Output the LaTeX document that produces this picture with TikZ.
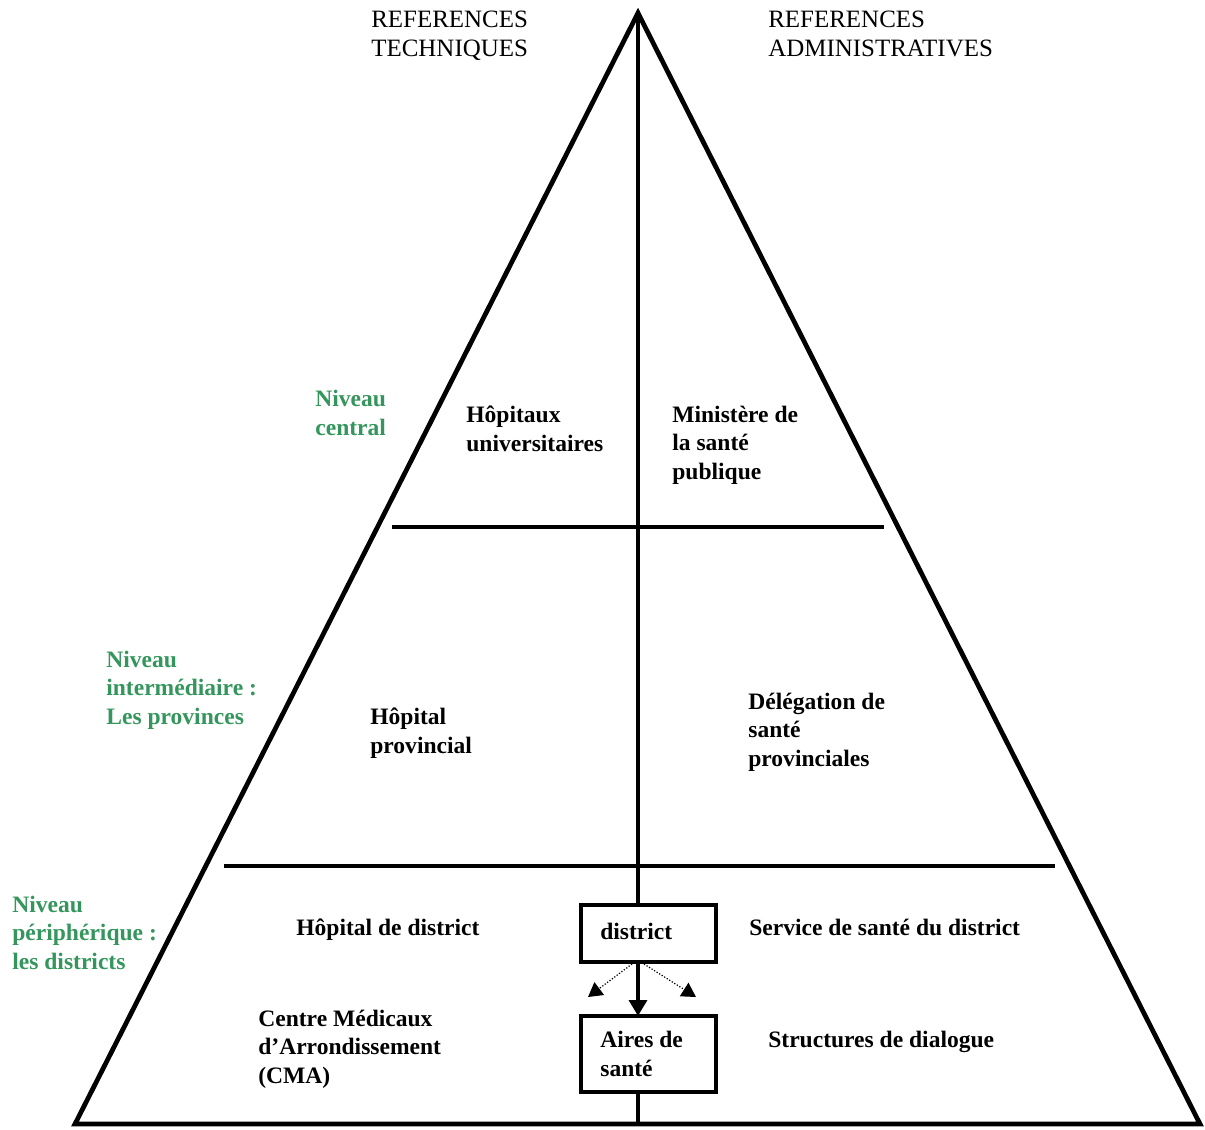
\documentclass[tikz,border=0pt]{standalone}
\usepackage{fontspec}
\setmainfont{Liberation Serif}
\usetikzlibrary{arrows.meta}
\definecolor{lvlgreen}{RGB}{52,150,92}
\tikzset{
  txt/.style={anchor=base west, align=left, inner sep=0pt, font=\bfseries\fontsize{13.4}{16.2}\selectfont},
  hdr/.style={anchor=base west, align=left, inner sep=0pt, font=\fontsize{14.2}{16.4}\selectfont},
  lvl/.style={txt, text=lvlgreen},
  frame/.style={line width=2.7pt, line join=miter},
  boxed/.style={draw, line width=2.7pt, minimum width=135*0.02cm, inner sep=0pt},
  small/.style={densely dotted, line width=0.7pt, -{Triangle[length=8pt,width=9pt]}}
}
\begin{document}
\begin{tikzpicture}[x=0.02cm,y=-0.02cm]
\useasboundingbox (0,0) rectangle (1205,1130);
% pyramid
\coordinate (apex) at (638,13);
\coordinate (bl) at (75,1124);
\coordinate (br) at (1200,1124);
\coordinate (bm) at (638,1124);
\draw[frame] (apex) -- (br) -- (bl) -- cycle;
% level lines
\draw[frame] (392,527) coordinate (l1a) -- (884,527) coordinate (l1b);
\draw[frame] (224,866) coordinate (l2a) -- (1055,866) coordinate (l2b);
% boxes
\node[boxed, minimum height=57*0.02cm] (district) at (648.5,933.5) {};
\node[boxed, minimum height=76*0.02cm] (aires) at (648.5,1054) {};
\coordinate (dtop) at (638,905);
\coordinate (dbot) at (638,962);
\coordinate (atop) at (638,1016);
\coordinate (abot) at (638,1092);
\draw[frame] (apex) -- (dtop);
\draw[line width=2.7pt, -{Triangle[length=9pt,width=10pt]}] (dbot) -- (atop);
\draw[frame] (abot) -- (bm);
\coordinate (tl) at (588,997);
\coordinate (tr) at (696,997);
\draw[small] (632,964) -- (tl);
\draw[small] (644,964) -- (tr);
% headers
\node[hdr] (h1) at (371,56) {REFERENCES\\TECHNIQUES};
\node[hdr] (h2) at (768,56) {REFERENCES\\ADMINISTRATIVES};
% levels
\node[lvl] (n1) at (315,435) {Niveau\\central};
\node[lvl] (n2) at (106,724) {Niveau\\interm\'ediaire :\\Les provinces};
\node[lvl] (n3) at (12,969) {Niveau\\p\'eriph\'erique :\\les districts};
% texts
\node[txt] (t1) at (466,451) {H\^opitaux\\universitaires};
\node[txt] (t2) at (672,479) {Minist\`ere de\\la sant\'e\\publique};
\node[txt] (t3) at (370,753) {H\^opital\\provincial};
\node[txt] (t4) at (748,766) {D\'el\'egation de\\sant\'e\\provinciales};
\node[txt] (t5) at (296,935) {H\^opital de district};
\node[txt] (t6) at (600,939) {district};
\node[txt] (t7) at (749,935) {Service de sant\'e du district};
\node[txt] (t8) at (258,1083) {Centre M\'edicaux\\d'Arrondissement\\(CMA)};
\node[txt] (t9) at (600,1076) {Aires de\\sant\'e};
\node[txt] (t10) at (768,1047) {Structures de dialogue};
\end{tikzpicture}
\end{document}
